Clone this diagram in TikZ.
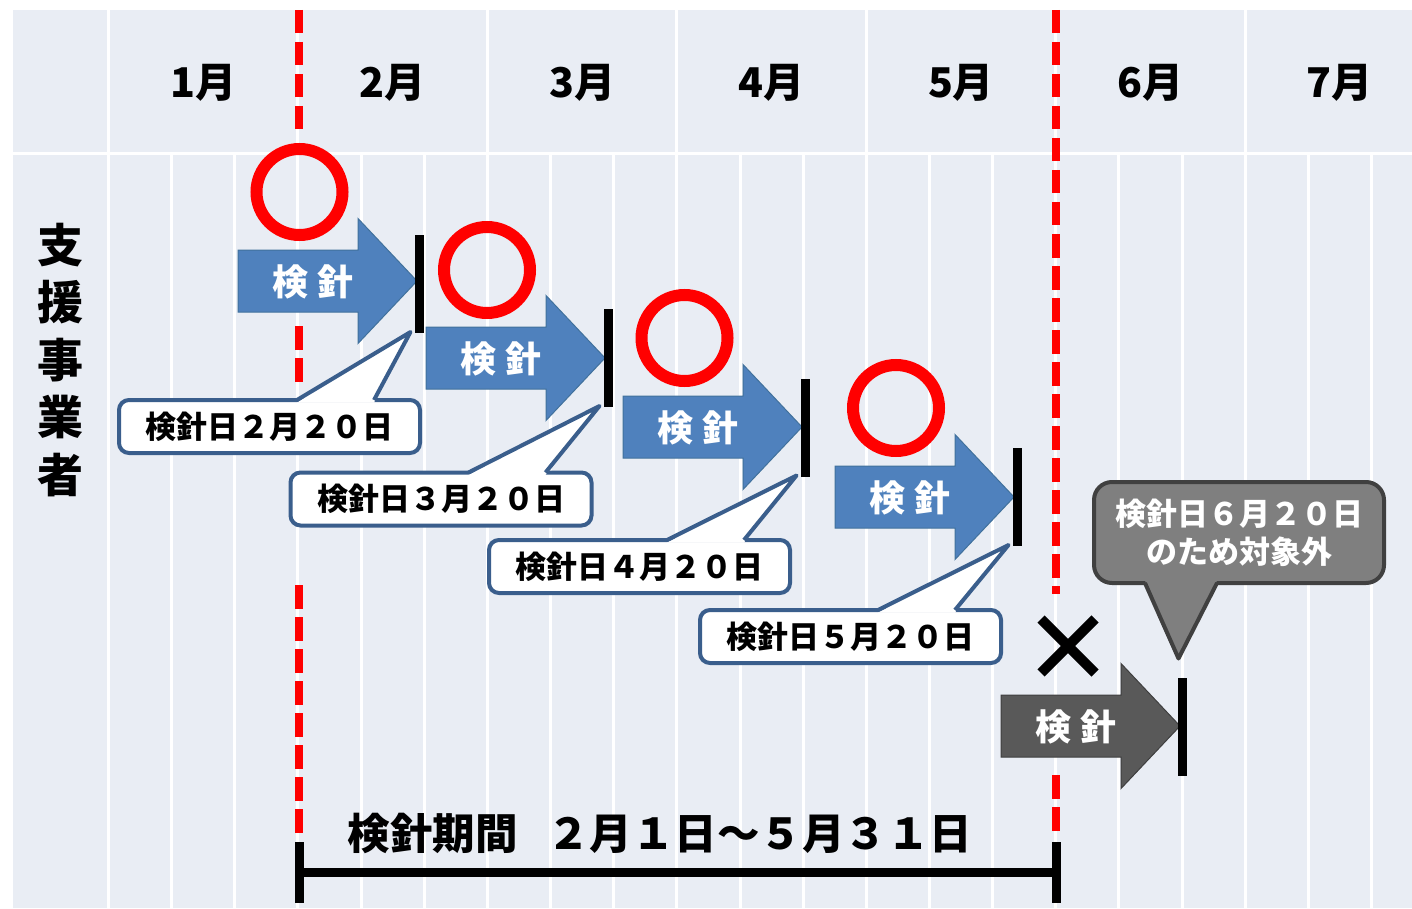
\documentclass[tikz,border=0pt]{standalone}
\usepackage{fontspec}
\setmainfont{Noto Sans CJK JP}
\usetikzlibrary{calc}
\definecolor{gridbg}{HTML}{E9EDF4}
\definecolor{arrowblue}{HTML}{4F81BD}
\definecolor{arrowedge}{HTML}{41719C}
\definecolor{cborder}{HTML}{3A5E8C}
\definecolor{darkarrow}{HTML}{595959}
\definecolor{darkedge}{HTML}{3F3F3F}
\definecolor{graybox}{HTML}{7F7F7F}
\definecolor{grayedge}{HTML}{404040}
\newcommand\meterarrow[5]{%
  \filldraw[fill=#4, draw=#5, line width=1, line join=miter]
    (#2,#3-31) -- (#2+120,#3-31) -- (#2+120,#3-62.5) -- (#2+179,#3)
    -- (#2+120,#3+62.5) -- (#2+120,#3+31) -- (#2,#3+31) -- cycle;
  \node[arrowtext] (#1) at (#2+75,#3+1) {検 針};%
}
\begin{document}
\begin{tikzpicture}[x=1pt,y=-1pt,
  gridline/.style={white, line width=3},
  reddash/.style={draw=red, line width=8, dash pattern=on 23.5 off 8.5},
  okmark/.style={circle, draw=red, line width=12, minimum size=86, inner sep=0, outer sep=0},
  stopbar/.style={fill=black, minimum width=9, minimum height=98, inner sep=0, outer sep=0},
  callout/.style={draw=cborder, fill=white, line width=4, rounded corners=10,
    minimum width=301, minimum height=53, inner sep=0, outer sep=0,
    font={\fontsize{31}{37}\selectfont\bfseries}},
  pointeredge/.style={draw=cborder, line width=4, line join=round},
  graycallout/.style={draw=grayedge, fill=graybox, line width=4, rounded corners=18,
    minimum width=290, minimum height=101, inner sep=0, outer sep=0, text=white, align=center,
    font={\fontsize{31}{38}\selectfont\bfseries}},
  arrowtext/.style={text=white, inner sep=0, font={\fontsize{36}{36}\selectfont\bfseries}},
  monthlabel/.style={inner sep=0, font={\fontsize{41}{41}\selectfont\bfseries}},
  sidelabel/.style={inner sep=0, align=center, font={\fontsize{46}{57.5}\selectfont\bfseries}},
  periodlabel/.style={inner sep=0, font={\fontsize{42.5}{42.5}\selectfont\bfseries}},
  bracket/.style={draw=black, line width=9},
  crossmark/.style={draw=black, line width=10}
]
\useasboundingbox (0,0) rectangle (1412,909);
% background grid
\fill[gridbg] (13,10) rectangle (1412,908);
\foreach \k in {0,...,20} \draw[gridline] ({108.5+63.15*\k},154) -- ({108.5+63.15*\k},908);
\foreach \k in {0,3,6,9,12,15,18} \draw[gridline] ({108.5+63.15*\k},10) -- ({108.5+63.15*\k},154);
\draw[gridline] (13,154) -- (1412,154);
% month labels
\foreach \m [count=\i from 0] in {1,2,3,4,5,6,7}
  \node[monthlabel] (month\m) at ({203.2+189.45*\i},83) {\m 月};
% side label
\node[sidelabel] (side) at (60,360) {支\\援\\事\\業\\者};
% red dashed limits
\draw[reddash] (299,10) -- (299,131);
\draw[reddash] (299,326) -- (299,384);
\draw[reddash] (299,585) -- (299,833);
\draw[reddash] (1056,10) -- (1056,594);
\draw[reddash] (1056,775) -- (1056,833);
% period bracket
\coordinate (ps) at (299.5,872);
\coordinate (pe) at (1056,872);
\draw[bracket] (ps) -- (pe);
\draw[bracket] ($(ps)+(0,-30)$) -- ($(ps)+(0,31)$);
\draw[bracket] ($(pe)+(0,-30)$) -- ($(pe)+(0,31)$);
\node[periodlabel] (period) at (660,833) {検針期間\hspace{30pt}２月１日～５月３１日};
% arrows
\meterarrow{a1}{238}{281}{arrowblue}{arrowedge}
\meterarrow{a2}{426}{358}{arrowblue}{arrowedge}
\meterarrow{a3}{623}{427}{arrowblue}{arrowedge}
\meterarrow{a4}{835}{497}{arrowblue}{arrowedge}
\meterarrow{a5}{1001}{726}{darkarrow}{darkedge}
% bars
\node[stopbar] (b1) at (419.5,284) {};
\node[stopbar] (b2) at (608.5,358) {};
\node[stopbar] (b3) at (805.5,427.5) {};
\node[stopbar] (b4) at (1017.5,497) {};
\node[stopbar] (b5) at (1182.5,726.5) {};
% circles
\node[okmark] (o1) at (299.5,192) {};
\node[okmark] (o2) at (487,270) {};
\node[okmark] (o3) at (684.5,338) {};
\node[okmark] (o4) at (896,408) {};
% cross
\coordinate (xc) at (1068,646);
\draw[crossmark] ($(xc)+(-27,-27)$) -- ($(xc)+(27,27)$);
\draw[crossmark] ($(xc)+(27,-27)$) -- ($(xc)+(-27,27)$);
% callouts
\foreach \c/\b/\x/\y/\t in {c1/b1/269.5/426.5/２, c2/b2/441/499/３, c3/b3/639.5/566.5/４, c4/b4/850.5/636.5/５}{
  \node[callout] (\c) at (\x,\y) {検針日\t 月２０日};
  \fill[white] ($(\c.north west)+(178,2.5)$) -- ($(\b.south)+(-9,-1)$) -- ($(\c.north west)+(255,2.5)$) -- cycle;
  \draw[pointeredge] ($(\c.north west)+(178,0)$) -- ($(\b.south)+(-9,-1)$) -- ($(\c.north west)+(255,0)$);
}
% gray callout
\node[graycallout] (g) at (1239,532.5) {検針日６月２０日\\のため対象外};
\fill[graybox] ($(g.south west)+(51,-2.5)$) -- ($(b5.north)+(-4,-19)$) -- ($(g.south west)+(123,-2.5)$) -- cycle;
\draw[draw=grayedge, line width=4, line join=round] ($(g.south west)+(51,0)$) -- ($(b5.north)+(-4,-19)$) -- ($(g.south west)+(123,0)$);
\end{tikzpicture}
\end{document}
